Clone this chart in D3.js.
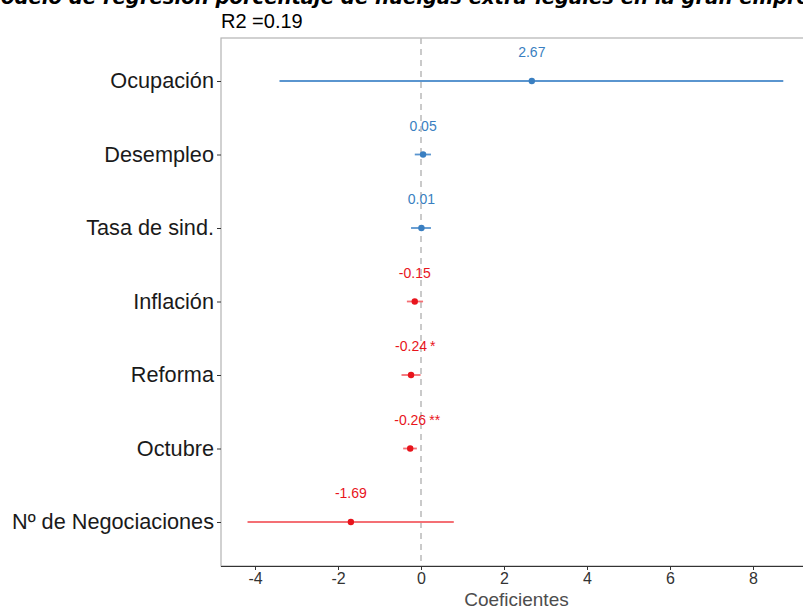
<!DOCTYPE html>
<html>
<head>
<meta charset="utf-8">
<script src="https://cdn.jsdelivr.net/npm/d3@7"></script>
<style>
  body { margin: 0; background: #fff; }
  svg { display: block; }
</style>
</head>
<body>
<svg id="chart" width="803" height="609"></svg>
<script>
// Regression coefficients with confidence intervals
const terms = ["Ocupación", "Desempleo", "Tasa de sind.", "Inflación", "Reforma", "Octubre", "Nº de Negociaciones"];
const estimates = [2.67, 0.05, 0.01, -0.15, -0.24, -0.26, -1.69];
const lower = [-3.41, -0.15, -0.24, -0.34, -0.47, -0.43, -4.18];
const upper = [8.73, 0.24, 0.24, 0.05, -0.01, -0.10, 0.79];
const stars = ["", "", "", "", "*", "**", ""];
const xTicks = [-4, -2, 0, 2, 4, 6, 8];
const titleText = "Modelo de regresión porcentaje de huelgas extra-legales en la gran empresa";
const subtitleText = "R2 =0.19";

const svg = d3.select("#chart");
const panel = { left: 221, top: 38, right: 830, bottom: 566 };
const sans = "Liberation Sans, Arial, sans-serif";

const x = d3.scaleLinear().domain([-4, 8]).range([255, 753]);
const y = d3.scalePoint().domain(terms).range([81, 522]);

const posColor = "#3a7fc1", posLine = "#5a95cf";
const negColor = "#e8141c", negLine = "#f46f74";

// Title (wider than the canvas, so it runs past both edges)
const titleSize = 19.6;
const title = svg.append("text")
  .attr("y", 4)
  .attr("font-family", "DejaVu Sans")
  .attr("font-weight", "bold")
  .attr("font-style", "italic")
  .attr("font-size", titleSize)
  .attr("fill", "#000")
  .text(titleText);
const mTmp = svg.append("text").attr("font-family", "DejaVu Sans").attr("font-weight", "bold")
  .attr("font-style", "italic").attr("font-size", titleSize).text("M");
const mW = mTmp.node().getComputedTextLength();
mTmp.remove();
title.attr("x", -mW + 1);

svg.append("text")
  .attr("x", 221).attr("y", 28)
  .attr("font-family", sans)
  .attr("font-size", 20).attr("fill", "#000")
  .text(subtitleText);

// Panel border
svg.append("rect")
  .attr("x", panel.left).attr("y", panel.top)
  .attr("width", panel.right - panel.left).attr("height", panel.bottom - panel.top)
  .attr("fill", "none").attr("stroke", "#b3b3b3").attr("stroke-width", 1.2);

// Zero reference line
svg.append("line")
  .attr("x1", x(0)).attr("x2", x(0))
  .attr("y1", panel.top).attr("y2", panel.bottom)
  .attr("stroke", "#bdbdbd").attr("stroke-width", 1.6)
  .attr("stroke-dasharray", "6,5");

// X axis
const xAxis = svg.append("g")
  .attr("transform", `translate(0,${panel.bottom})`)
  .call(d3.axisBottom(x).tickValues(xTicks).tickSize(4).tickPadding(3).tickFormat(d => String(d)));
xAxis.select(".domain").attr("d", `M${panel.left},0.5H${panel.right}`).attr("stroke", "#333");
xAxis.selectAll(".tick line").attr("stroke", "#333");
xAxis.selectAll(".tick text")
  .attr("font-family", sans)
  .attr("font-size", 16).attr("fill", "#333");

svg.append("text")
  .attr("x", x(2.3)).attr("y", 606)
  .attr("text-anchor", "middle")
  .attr("font-family", sans)
  .attr("font-size", 19).attr("fill", "#4d4d4d")
  .text("Coeficientes");

// Y axis
const yAxis = svg.append("g")
  .attr("transform", `translate(${panel.left},0)`)
  .call(d3.axisLeft(y).tickSize(4).tickPadding(3));
yAxis.select(".domain").remove();
yAxis.selectAll(".tick line").attr("stroke", "#333");
yAxis.selectAll(".tick text")
  .attr("font-family", sans)
  .attr("font-size", 21.7).attr("fill", "#1a1a1a");

const rows = terms.map((t, i) => ({ term: t, est: estimates[i], lo: lower[i], hi: upper[i], star: stars[i] }));

// Confidence intervals
svg.append("g").selectAll("line").data(rows).join("line")
  .attr("x1", d => x(d.lo)).attr("x2", d => x(d.hi))
  .attr("y1", d => y(d.term)).attr("y2", d => y(d.term))
  .attr("stroke", d => d.est >= 0 ? posLine : negLine)
  .attr("stroke-width", 1.8);

// Point estimates
svg.append("g").selectAll("circle").data(rows).join("circle")
  .attr("cx", d => x(d.est)).attr("cy", d => y(d.term))
  .attr("r", 3.2)
  .attr("fill", d => d.est >= 0 ? posColor : negColor);

// Value labels
svg.append("g").selectAll("text").data(rows).join("text")
  .attr("x", d => x(d.est)).attr("y", d => y(d.term) - 24)
  .attr("text-anchor", "middle")
  .attr("font-family", sans)
  .attr("font-size", 14)
  .attr("fill", d => d.est >= 0 ? posColor : negColor)
  .text(d => d.est.toFixed(2));

// Significance stars
svg.append("g").selectAll("text").data(rows.filter(d => d.star)).join("text")
  .attr("x", d => x(d.est) + 19).attr("y", d => y(d.term) - 24)
  .attr("text-anchor", "start")
  .attr("font-family", sans)
  .attr("font-size", 14)
  .attr("fill", negColor)
  .text(d => d.star);
</script>
</body>
</html>
